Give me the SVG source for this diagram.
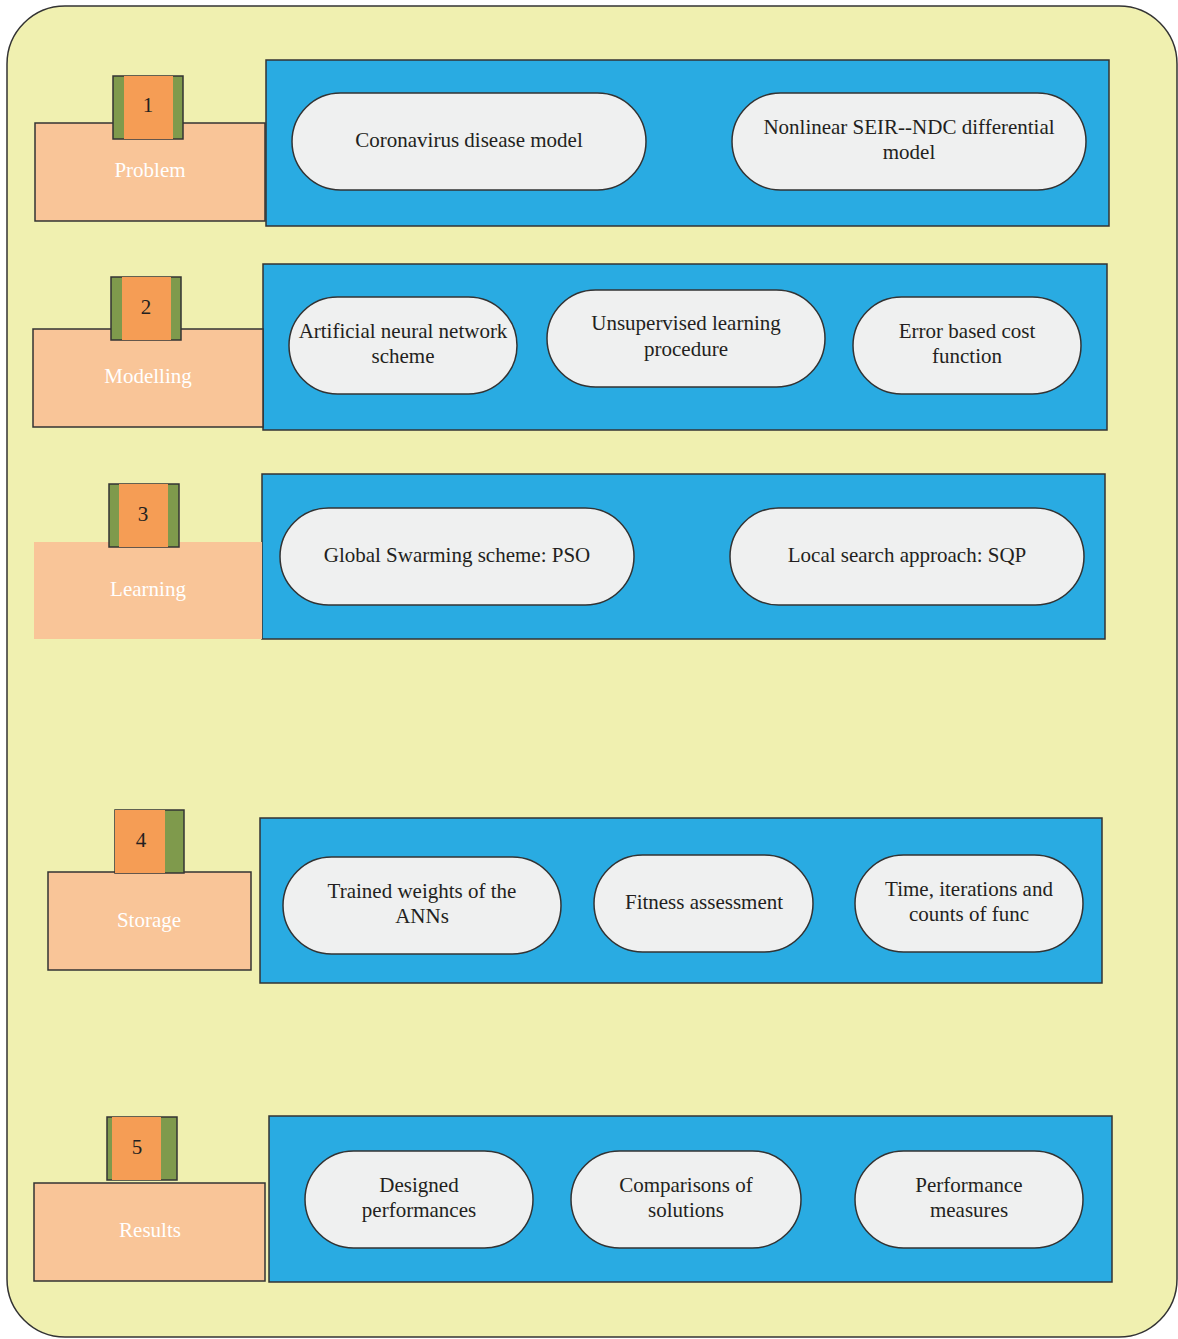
<svg xmlns="http://www.w3.org/2000/svg" width="1178" height="1339" viewBox="0 0 1178 1339">
<style>
.bg{fill:#f0f0b0;stroke:#333;stroke-width:1.5}
.lab{fill:#f9c598;stroke:#333;stroke-width:1.5}
.labn{fill:#f9c598}
.grn{fill:#7f9a4c;stroke:#333;stroke-width:1.5}
.org{fill:#f59d55}
.blue{fill:#29abe2;stroke:#333;stroke-width:1.5}
.pill{fill:#eff0f0;stroke:#333;stroke-width:1.5}
text{font-family:"Liberation Serif","DejaVu Serif",serif;font-size:21px;text-anchor:middle}
.w{fill:#ffffff}
.d{fill:#231f20}
</style>
<rect class="bg" x="7" y="6" width="1170" height="1331" rx="58"/>

<g id="row1">
<rect class="blue" x="266" y="60" width="843" height="166"/>
<rect class="lab" x="35" y="123" width="230" height="98"/>
<rect class="grn" x="113" y="76" width="70" height="63"/>
<rect class="org" x="124" y="76" width="49" height="63"/>
<text class="d" x="148" y="112">1</text>
<text class="w" x="150" y="177">Problem</text>
</g>
<g id="p1a"><rect class="pill" x="292" y="93" width="354" height="97" rx="48.5"/><text class="d" x="469" y="147">Coronavirus disease model</text></g>
<g id="p1b"><rect class="pill" x="732" y="93" width="354" height="97" rx="48.5"/><text class="d" x="909" y="134">Nonlinear SEIR--NDC differential</text><text class="d" x="909" y="159">model</text></g>

<g id="row2">
<rect class="blue" x="263" y="264" width="844" height="166"/>
<rect class="lab" x="33" y="329" width="230" height="98"/>
<rect class="grn" x="111" y="277" width="70" height="63"/>
<rect class="org" x="122" y="277" width="49" height="63"/>
<text class="d" x="146" y="314">2</text>
<text class="w" x="148" y="383">Modelling</text>
</g>
<g id="p2a"><rect class="pill" x="289" y="297" width="228" height="97" rx="48.5"/><text class="d" x="403" y="338">Artificial neural network</text><text class="d" x="403" y="363">scheme</text></g>
<g id="p2b"><rect class="pill" x="547" y="290" width="278" height="97" rx="48.5"/><text class="d" x="686" y="330">Unsupervised learning</text><text class="d" x="686" y="356">procedure</text></g>
<g id="p2c"><rect class="pill" x="853" y="297" width="228" height="97" rx="48.5"/><text class="d" x="967" y="338">Error based cost</text><text class="d" x="967" y="363">function</text></g>

<g id="row3">
<rect class="blue" x="262" y="474" width="843" height="165"/>
<rect class="labn" x="34" y="542" width="228" height="97"/>
<rect class="grn" x="109" y="484" width="70" height="63"/>
<rect class="org" x="119" y="484" width="49" height="63"/>
<text class="d" x="143" y="521">3</text>
<text class="w" x="148" y="596">Learning</text>
</g>
<g id="p3a"><rect class="pill" x="280" y="508" width="354" height="97" rx="48.5"/><text class="d" x="457" y="562">Global Swarming scheme: PSO</text></g>
<g id="p3b"><rect class="pill" x="730" y="508" width="354" height="97" rx="48.5"/><text class="d" x="907" y="562">Local search approach: SQP</text></g>

<g id="row4">
<rect class="blue" x="260" y="818" width="842" height="165"/>
<rect class="lab" x="48" y="872" width="203" height="98"/>
<rect class="grn" x="115" y="810" width="69" height="63"/>
<rect class="org" x="115" y="810" width="50" height="63"/>
<text class="d" x="141" y="847">4</text>
<text class="w" x="149" y="927">Storage</text>
</g>
<g id="p4a"><rect class="pill" x="283" y="857" width="278" height="97" rx="48.5"/><text class="d" x="422" y="898">Trained weights of the</text><text class="d" x="422" y="923">ANNs</text></g>
<g id="p4b"><rect class="pill" x="594" y="855" width="219" height="97" rx="48.5"/><text class="d" x="704" y="909">Fitness assessment</text></g>
<g id="p4c"><rect class="pill" x="855" y="855" width="228" height="97" rx="48.5"/><text class="d" x="969" y="896">Time, iterations and</text><text class="d" x="969" y="921">counts of func</text></g>

<g id="row5">
<rect class="blue" x="269" y="1116" width="843" height="166"/>
<rect class="lab" x="34" y="1183" width="231" height="98"/>
<rect class="grn" x="107" y="1117" width="70" height="63"/>
<rect class="org" x="112" y="1117" width="49" height="63"/>
<text class="d" x="137" y="1154">5</text>
<text class="w" x="150" y="1237">Results</text>
</g>
<g id="p5a"><rect class="pill" x="305" y="1151" width="228" height="97" rx="48.5"/><text class="d" x="419" y="1192">Designed</text><text class="d" x="419" y="1217">performances</text></g>
<g id="p5b"><rect class="pill" x="571" y="1151" width="230" height="97" rx="48.5"/><text class="d" x="686" y="1192">Comparisons of</text><text class="d" x="686" y="1217">solutions</text></g>
<g id="p5c"><rect class="pill" x="855" y="1151" width="228" height="97" rx="48.5"/><text class="d" x="969" y="1192">Performance</text><text class="d" x="969" y="1217">measures</text></g>

<g id="connectors"></g>
</svg>
